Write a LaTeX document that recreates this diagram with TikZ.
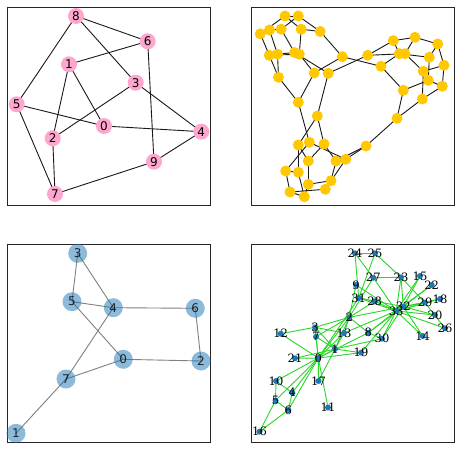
\documentclass[tikz,border=0pt]{standalone}
\usepackage{fontspec}
\setmainfont{DejaVu Sans}
\newfontfamily\kfont{DejaVu Serif}
\pgfdeclarelayer{bg}
\pgfsetlayers{bg,main}
\definecolor{pinkn}{RGB}{255,166,208}
\definecolor{goldn}{RGB}{255,200,0}
\definecolor{bluen}{RGB}{31,119,180}
\definecolor{greenn}{RGB}{40,215,40}
\begin{document}
\begin{tikzpicture}[x=1pt,y=-1pt,
  frame/.style={draw=black!85,line width=0.8pt},
  pn/.style={circle,fill=pinkn,inner sep=0pt,minimum size=16pt,font=\fontsize{12}{12}\selectfont},
  pe/.style={draw=black!90,line width=0.9pt},
  tn/.style={circle,fill=goldn,inner sep=0pt,minimum size=11pt},
  te/.style={draw=black!90,line width=0.9pt},
  bn/.style={circle,fill=bluen,fill opacity=0.5,text opacity=0.8,text=black,inner sep=0pt,minimum size=19pt,font=\fontsize{12}{12}\selectfont},
  be/.style={draw=black!50,line width=0.9pt},
  kn/.style={circle,fill=bluen,inner sep=0pt,minimum size=6pt},
  kl/.style={font=\kfont\fontsize{11.5}{11.5}\selectfont,text=black,inner sep=0pt},
  ke/.style={draw=greenn,line width=0.9pt}]
\useasboundingbox (0,0) rectangle (460,449);
\begin{pgfonlayer}{bg}
\fill[white] (0,0) rectangle (460,449);
\end{pgfonlayer}
% frames
\draw[frame] (7.3,7.3) rectangle (210.7,205);
\draw[frame] (251.7,7.3) rectangle (454,205);
\draw[frame] (7.3,244.3) rectangle (210.7,442.3);
\draw[frame] (251.7,244.3) rectangle (454,442.3);

% ---------- Petersen (top left)
\node[pn] (p0) at (104,126) {0};
\node[pn] (p1) at (69,64.3) {1};
\node[pn] (p2) at (52.7,138.3) {2};
\node[pn] (p3) at (135.7,82.7) {3};
\node[pn] (p4) at (201.3,131.7) {4};
\node[pn] (p5) at (16.7,104.3) {5};
\node[pn] (p6) at (147.7,41.3) {6};
\node[pn] (p7) at (55,194) {7};
\node[pn] (p8) at (76,16) {8};
\node[pn] (p9) at (154,161.7) {9};
\begin{pgfonlayer}{bg}
\foreach \a/\b in {0/1,0/4,0/5,1/2,1/6,2/3,2/7,3/4,3/8,4/9,5/7,5/8,6/8,6/9,7/9}
  \draw[pe] (p\a.center) -- (p\b.center);
\end{pgfonlayer}

% ---------- Tutte graph (top right)
\node[tn] (ta1) at (285.0,16.0) {};
\node[tn] (ta2) at (298.3,16.0) {};
\node[tn] (ta3) at (260.3,33.8) {};
\node[tn] (ta4) at (269.5,30.0) {};
\node[tn] (ta5) at (281.2,29.2) {};
\node[tn] (ta6) at (301.2,29.2) {};
\node[tn] (ta7) at (320.2,31.5) {};
\node[tn] (ta8) at (269.3,55.3) {};
\node[tn] (ta9) at (277.5,54.2) {};
\node[tn] (ta10) at (294.5,52.5) {};
\node[tn] (ta11) at (299.3,54.2) {};
\node[tn] (ta12) at (342.3,56.7) {};
\node[tn] (ta13) at (278.5,77.3) {};
\node[tn] (ta14) at (314.2,73.0) {};
\node[tn] (ta15) at (328.3,73.3) {};
\node[tn] (ta16) at (298.3,102.3) {};
\node[tn] (ra1) at (367.7,55.3) {};
\node[tn] (ra2) at (381,66.3) {};
\node[tn] (ra3) at (393.3,40.7) {};
\node[tn] (ra4) at (415,37.3) {};
\node[tn] (ra5) at (437.7,44) {};
\node[tn] (ra6) at (399.3,53.7) {};
\node[tn] (ra7) at (405,53.7) {};
\node[tn] (ra8) at (429.3,57.3) {};
\node[tn] (ra9) at (444,65.3) {};
\node[tn] (ra10) at (423.3,71.3) {};
\node[tn] (ra11) at (428.3,80.3) {};
\node[tn] (ra12) at (442.3,86.3) {};
\node[tn] (ra13) at (403.3,90.3) {};
\node[tn] (ra14) at (422.3,99) {};
\node[tn] (ra15) at (397,118.3) {};
\node[tn] (ba1) at (317.3,116) {};
\node[tn] (ba2) at (298.3,145) {};
\node[tn] (ba3) at (309.3,142.3) {};
\node[tn] (ba4) at (324,144) {};
\node[tn] (ba5) at (308.3,161) {};
\node[tn] (ba6) at (336,161) {};
\node[tn] (ba7) at (345.7,159.3) {};
\node[tn] (ba8) at (285.7,171) {};
\node[tn] (ba9) at (298.3,172.3) {};
\node[tn] (ba10) at (308.3,184.3) {};
\node[tn] (ba11) at (331,180.7) {};
\node[tn] (ba12) at (290,192) {};
\node[tn] (ba13) at (304.3,196.7) {};
\node[tn] (ba14) at (325.3,189.3) {};
\node[tn] (ba15) at (366,146) {};
\begin{pgfonlayer}{bg}
\foreach \a/\b in {ta10/ta9,ta10/ta5,ta9/ta13,ta9/ta4,ta13/ta16,ta13/ta8,ta16/ta14,ta12/ta7,
  ta12/ta14,ta7/ta2,ta7/ta6,ta2/ta5,ta2/ta1,ta5/ta4,ta14/ta11,ta11/ta8,ta11/ta6,ta8/ta3,ta3/ta1,
  ta3/ta4,ta1/ta6,
  ta15/ta10,ta15/ra1,ta15/ba1,ra2/ta12,ta16/ba3,ra15/ba15,
  ra1/ra3,ra1/ra7,ra3/ra6,ra3/ra4,ra6/ra2,ra6/ra8,ra2/ra13,ra15/ra14,ra15/ra13,ra14/ra10,
  ra14/ra12,ra10/ra7,ra10/ra9,ra7/ra4,ra13/ra11,ra11/ra8,ra11/ra12,ra8/ra5,ra5/ra9,ra5/ra4,ra9/ra12,
  ba1/ba4,ba1/ba2,ba4/ba6,ba4/ba5,ba6/ba15,ba6/ba11,ba15/ba7,ba3/ba8,ba3/ba7,ba8/ba9,ba8/ba12,
  ba9/ba2,ba9/ba13,ba2/ba5,ba7/ba14,ba14/ba11,ba14/ba12,ba11/ba10,ba10/ba13,ba10/ba5,ba13/ba12}
  \draw[te] (\a.center) -- (\b.center);
\end{pgfonlayer}

% ---------- small graph (bottom left)
\node[bn] (b0) at (123.3,359.3) {0};
\node[bn] (b1) at (16,433.3) {1};
\node[bn] (b2) at (201,361) {2};
\node[bn] (b3) at (77.7,253.3) {3};
\node[bn] (b4) at (113.3,307.7) {4};
\node[bn] (b5) at (72,301.7) {5};
\node[bn] (b6) at (195.3,308.3) {6};
\node[bn] (b7) at (66,379) {7};
\begin{pgfonlayer}{bg}
\foreach \a/\b in {3/5,3/4,5/4,5/0,4/6,4/7,6/2,0/2,0/7,7/1}
  \draw[be] (b\a.center) -- (b\b.center);
\end{pgfonlayer}

% ---------- Karate club (bottom right)
\foreach \n/\x/\y in {0/318.3/358,1/335/349,2/349.3/317.3,3/315/327.3,4/292.3/392.7,
  5/275.5/400.5,6/288.3/410,7/316/336.7,8/368.3/332.7,9/356/285,10/276/381,
  11/328/407.5,12/280.7/333.7,13/344/333,14/422.7/336,15/420/276,16/259.5/431.7,
  17/318.5/381,18/440/299,19/361/352.7,20/435/315,21/295/358.3,22/431.7/285,
  23/401/277.3,24/355/253.3,25/375/253.3,26/445/328.3,27/373.3/277.7,28/374.7/301.3,
  29/425/302.7,30/382/338.7,31/358.7/298,32/403.3/306.7,33/396.2/311}
  \node[kn,label={[kl]center:\n}] (k\n) at (\x,\y) {};
\begin{pgfonlayer}{bg}
\foreach \a/\b in {0/1,0/2,0/3,0/4,0/5,0/6,0/7,0/8,0/10,0/11,0/12,0/13,0/17,0/19,0/21,0/31,
  1/2,1/3,1/7,1/13,1/17,1/19,1/21,1/30,
  2/3,2/7,2/8,2/9,2/13,2/27,2/28,2/32,
  3/7,3/12,3/13,4/6,4/10,5/6,5/10,5/16,6/16,
  8/30,8/32,8/33,9/33,13/33,14/32,14/33,15/32,15/33,18/32,18/33,19/33,20/32,20/33,
  22/32,22/33,23/25,23/27,23/29,23/32,23/33,24/25,24/27,24/31,25/31,26/29,26/33,27/33,
  28/31,28/33,29/32,29/33,30/32,30/33,31/32,31/33,32/33}
  \draw[ke] (k\a.center) -- (k\b.center);
\end{pgfonlayer}
\end{tikzpicture}
\end{document}
